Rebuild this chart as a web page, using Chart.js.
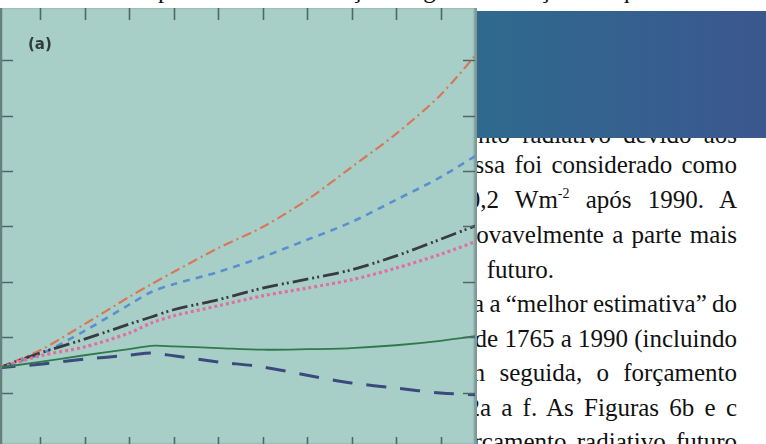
<!DOCTYPE html>
<html lang="pt">
<head>
<meta charset="utf-8">
<script src="https://cdn.jsdelivr.net/npm/chart.js@4.4.1/dist/chart.umd.min.js"></script>
<style>
    body {
        margin: 0;
        width: 766px;
        height: 444px;
        overflow: hidden;
        background: #ffffff;
        position: relative;
        font-family: "Liberation Serif", "Times New Roman", serif;
    }
    .linha {
        position: absolute;
        right: 29px;
        font-size: 25px;
        line-height: 25px;
        white-space: nowrap;
        color: #111111;
        z-index: 1;
    }
    .linha sup {
        font-size: 14px;
        vertical-align: 10px;
        line-height: 0;
    }
    #caixa {
        position: absolute;
        left: 477px;
        top: 11px;
        width: 289px;
        height: 127px;
        background: linear-gradient(to right, #2f6a8e, #3b578f);
        z-index: 2;
    }
    #figura {
        position: absolute;
        left: 0;
        top: 8px;
        width: 477px;
        height: 436px;
        background: #a8cfc7;
        box-shadow: inset -3px 0 2px rgba(90, 110, 110, 0.55);
        z-index: 3;
    }
    #grafico {
        position: absolute;
        left: 0;
        top: 0;
    }
    #rotulo {
        position: absolute;
        left: 28px;
        top: 27px;
        font-family: "DejaVu Sans", sans-serif;
        font-size: 15px;
        font-weight: bold;
        color: #2f3c3c;
    }
</style>
</head>
<body>

<div class="linha" style="top:-23px;">depende da concentração do gás e da força com que absorve</div>
<div class="linha" style="top:122px; word-spacing:6px;">o forçamento radiativo devido aos</div>
<div class="linha" style="top:152px; word-spacing:3px;">dos aerossóis de massa foi considerado como</div>
<div class="linha" style="top:187px; word-spacing:10px;">constante em 0,2 Wm<sup>-2</sup> após 1990. A</div>
<div class="linha" style="top:222px; word-spacing:2px;">que é provavelmente a parte mais</div>
<div class="linha" style="top:257px; right:212px; word-spacing:9px;">do futuro.</div>
<div class="linha" style="top:291px; word-spacing:-1px;">mostra a “melhor estimativa” do</div>
<div class="linha" style="top:326px;">desde 1765 a 1990 (incluindo</div>
<div class="linha" style="top:360px; word-spacing:8px;">e em seguida, o forçamento</div>
<div class="linha" style="top:395px; word-spacing:4px;">IS92a a f. As Figuras 6b e c</div>
<div class="linha" style="top:429px; word-spacing:4px;">o forçamento radiativo futuro</div>

<div id="caixa"></div>

<div id="figura">
    <canvas id="grafico" width="475" height="436"></canvas>
    <div id="rotulo">(a)</div>
</div>

<script>
// anos (eixo x) e forçamento radiativo (Wm-2)
let anos = [1990, 2000, 2010, 2020, 2025, 2030, 2040, 2050, 2060, 2070, 2080, 2090, 2100];

let serieLaranja = [2.43, 2.77, 3.24, 3.73, 3.96, 4.18, 4.61, 4.99, 5.48, 6.07, 6.67, 7.37, 8.29];
let serieAzul    = [2.43, 2.70, 3.12, 3.59, 3.82, 3.96, 4.18, 4.45, 4.76, 5.08, 5.48, 5.89, 6.38];
let seriePreta   = [2.43, 2.72, 2.97, 3.24, 3.37, 3.50, 3.68, 3.89, 4.05, 4.22, 4.47, 4.77, 5.08];
let serieRosa    = [2.43, 2.67, 2.83, 3.08, 3.26, 3.39, 3.57, 3.75, 3.89, 4.04, 4.25, 4.50, 4.79];
let serieVerde   = [2.45, 2.56, 2.68, 2.79, 2.85, 2.84, 2.81, 2.78, 2.79, 2.81, 2.86, 2.94, 3.05];
let serieMarinho = [2.45, 2.52, 2.61, 2.68, 2.72, 2.67, 2.56, 2.47, 2.32, 2.18, 2.09, 2.00, 1.96];

// marcas dos eixos (sem rotulos visiveis na figura)
let ticksX = [2000, 2010, 2020, 2030, 2040, 2050, 2060, 2070, 2080, 2090];
let ticksY = [2, 3, 4, 5, 6, 7, 8];

function montaPontos(valores) {
    let pontos = [];
    for (let i = 0; i < anos.length; i++) {
        pontos.push({ x: anos[i], y: valores[i] });
    }
    return pontos;
}

function serie(valores, cor, largura, tracejado) {
    return {
        data: montaPontos(valores),
        borderColor: cor,
        borderWidth: largura,
        borderDash: tracejado,
        borderCapStyle: "butt",
        pointRadius: 0,
        tension: 0.3,
        fill: false
    };
}

// desenha as marcas dos eixos para dentro, como na figura original
let marcasInternas = {
    id: "marcasInternas",
    afterDatasetsDraw: function(chart) {
        let ctx = chart.ctx;
        let area = chart.chartArea;
        let x = chart.scales.x;
        let y = chart.scales.y;

        ctx.save();
        ctx.strokeStyle = "#4f6867";
        ctx.lineWidth = 1.6;
        ctx.beginPath();

        for (let i = 0; i < ticksX.length; i++) {
            let px = Math.round(x.getPixelForValue(ticksX[i])) + 0.5;
            ctx.moveTo(px, area.top);
            ctx.lineTo(px, area.top + 12);
            ctx.moveTo(px, area.bottom);
            ctx.lineTo(px, area.bottom - 7);
        }

        for (let i = 0; i < ticksY.length; i++) {
            let py = Math.round(y.getPixelForValue(ticksY[i])) + 0.5;
            ctx.moveTo(area.left, py);
            ctx.lineTo(area.left + 13, py);
            ctx.moveTo(area.right, py);
            ctx.lineTo(area.right - 12, py);
        }
        ctx.stroke();

        // linha do eixo esquerdo
        ctx.lineWidth = 2.5;
        ctx.strokeStyle = "#66807e";
        ctx.beginPath();
        ctx.moveTo(area.left + 1, area.top);
        ctx.lineTo(area.left + 1, area.bottom);
        ctx.stroke();
        ctx.restore();
    }
};

let grafico = new Chart(document.getElementById("grafico"), {
    type: "line",
    data: {
        datasets: [
            serie(serieVerde, "#2f7a4c", 1.8, []),
            serie(serieMarinho, "#3b4a7c", 3, [20, 14]),
            serie(serieRosa, "#e0709e", 3.2, [3, 3]),
            serie(seriePreta, "#383c3c", 2.8, [16, 4, 2, 3, 2, 4]),
            serie(serieAzul, "#5a8fd2", 2.6, [7, 6]),
            serie(serieLaranja, "#d8775a", 2.2, [10, 4, 2, 4])
        ]
    },
    options: {
        responsive: false,
        animation: false,
        layout: { padding: 0 },
        plugins: {
            legend: { display: false },
            tooltip: { enabled: false }
        },
        scales: {
            x: {
                type: "linear",
                display: false,
                min: 1991,
                max: 2097.74
            },
            y: {
                type: "linear",
                display: false,
                min: 1.081,
                max: 8.937
            }
        }
    },
    plugins: [marcasInternas]
});
</script>
</body>
</html>
